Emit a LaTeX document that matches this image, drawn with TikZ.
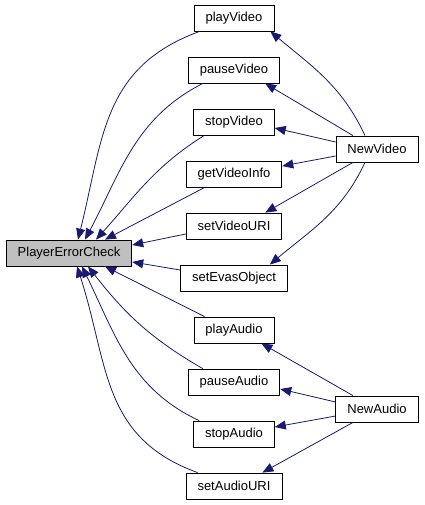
\documentclass[tikz,border=0pt]{standalone}
\usepackage{fontspec}
\setmainfont{Liberation Sans}
\usetikzlibrary{arrows.meta,positioning}
\definecolor{EdgeBlue}{RGB}{25,25,112}
\definecolor{NodeGray}{RGB}{191,191,191}
\tikzset{
  fbox/.style={draw=black,fill=white,rectangle,minimum height=26pt,
               inner xsep=11.5pt,font=\fontsize{13}{15}\selectfont,line width=0.8pt},
  rootbox/.style={fbox,fill=NodeGray},
  arr/.style={-{Triangle[length=11pt,width=9pt]},EdgeBlue,line width=0.8pt},
}

\begin{document}
\begin{tikzpicture}[x=1pt,y=-1pt]
  \useasboundingbox (0,0) rectangle (424,505);
  % root
  \node[rootbox] (pec) at (69,253) {PlayerErrorCheck};
  % callers
  \node[fbox] (pv)  at (234,18)  {playVideo};
  \node[fbox] (pav) at (234,70)  {pauseVideo};
  \node[fbox] (sv)  at (234,122) {stopVideo};
  \node[fbox] (gvi) at (234,174) {getVideoInfo};
  \node[fbox] (svu) at (234,226) {setVideoURI};
  \node[fbox] (seo) at (234,278) {setEvasObject};
  \node[fbox] (pa)  at (234,330) {playAudio};
  \node[fbox] (pau) at (234,382) {pauseAudio};
  \node[fbox] (sa)  at (234,434) {stopAudio};
  \node[fbox] (sau) at (234,486) {setAudioURI};
  \node[fbox] (nv)  at (377,149) {NewVideo};
  \node[fbox] (na)  at (377,409) {NewAudio};

  % into PlayerErrorCheck
  \draw[arr] ([xshift=6pt]pv.south west) to[out=200,in=76,looseness=1.1] ([xshift=9pt]pec.north);
  \draw[arr] ([xshift=15pt]pav.south west) to[out=207,in=62] ([xshift=16pt]pec.north);
  \draw[arr] ([xshift=11pt]sv.south west) to[out=212,in=48] ([xshift=27pt]pec.north);
  \draw[arr] ([xshift=19pt]gvi.south west) -- ([xshift=36pt]pec.north);
  \draw[arr] ([yshift=-8pt]svu.west) -- ([yshift=8pt]pec.east);
  \draw[arr] ([yshift=8pt]seo.west) -- ([yshift=-9pt]pec.east);
  \draw[arr] ([xshift=11pt]pa.north west) -- ([xshift=36pt]pec.south);
  \draw[arr] ([xshift=15pt]pau.north west) to[out=150,in=-52] ([xshift=19pt]pec.south);
  \draw[arr] ([xshift=6pt]sa.north west) to[out=155,in=-64] ([xshift=13pt]pec.south);
  \draw[arr] ([xshift=12pt]sau.north west) to[out=160,in=-72,looseness=1.1] ([xshift=8pt]pec.south);

  % NewVideo
  \draw[arr] ([xshift=-12pt]nv.north) to[out=115,in=-40] ([xshift=-4pt]pv.south east);
  \draw[arr] ([xshift=-24pt]nv.north) -- ([xshift=-15pt]pav.south east);
  \draw[arr] ([yshift=7pt]nv.west) -- ([yshift=-6pt]sv.east);
  \draw[arr] ([yshift=-7pt]nv.west) -- ([yshift=8pt]gvi.east);
  \draw[arr] ([xshift=-24pt]nv.south) -- ([xshift=-17pt]svu.north east);
  \draw[arr] ([xshift=-12pt]nv.south) to[out=-115,in=40] ([xshift=-18pt]seo.north east);

  % NewAudio
  \draw[arr] ([xshift=-24pt]na.north) -- ([xshift=-13pt]pa.south east);
  \draw[arr] ([yshift=7pt]na.west) -- ([yshift=-7pt]pau.east);
  \draw[arr] ([yshift=-7pt]na.west) -- ([yshift=7pt]sa.east);
  \draw[arr] ([xshift=-24pt]na.south) -- ([xshift=-20pt]sau.north east);
\end{tikzpicture}
\end{document}
